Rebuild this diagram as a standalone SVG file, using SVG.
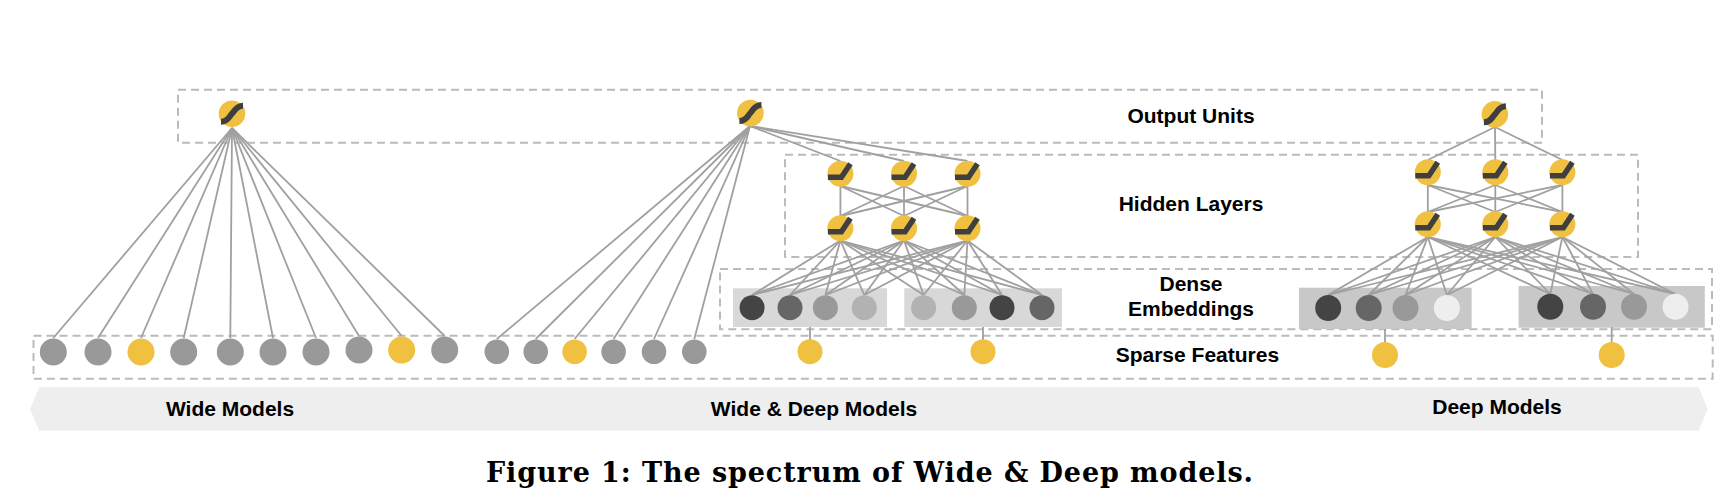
<svg xmlns="http://www.w3.org/2000/svg" width="1730" height="502" viewBox="0 0 1730 502">
<style>
text{font-family:"Liberation Sans",Arial,sans-serif;font-weight:700;font-size:21px;fill:#000;text-anchor:middle}
.cap{font-family:"DejaVu Serif",serif;font-size:27px;text-anchor:start}
.dash{fill:none;stroke:#bbb;stroke-width:2;stroke-dasharray:8 5}
.c line{stroke:#a0a0a0;stroke-width:1.8;fill:none}
.y{fill:#f0c040}.g{fill:#999}.k{fill:#444}.m{fill:#666}.l{fill:#b2b2b2}.w{fill:#eee}
.s{fill:none;stroke:#3f3f3f;stroke-width:6}
.r{fill:none;stroke:#3f3f3f;stroke-width:5.5}
.b1{fill:#d8d8d8}.b2{fill:#c8c8c8}
</style>
<defs>
<g id="sig"><circle r="13.3" class="y"/><path class="s" d="M-11 8C-4 8-3 3 0 0S4-8 11-8"/></g>
<g id="relu"><circle r="13" class="y"/><path class="r" d="M-12.5 3.5H1L10-10"/></g>
</defs>
<g id="banner"><path d="M39.3 387.3H1698.7L1707.7 409 1698.7 430.7H39.3L30 409Z" fill="#eee"/></g>
<g id="layer-boxes">
<rect id="box-output" class="dash" x="178" y="89.7" width="1364" height="53"/>
<rect id="box-hidden" class="dash" x="785" y="154.7" width="853" height="102.3"/>
<rect id="box-dense" class="dash" x="720" y="269" width="992" height="60.3"/>
<rect id="box-sparse" class="dash" x="33.5" y="335.7" width="1679.2" height="43"/>
</g>
<g id="embedding-boxes">
<rect class="b1" x="733" y="288.3" width="154" height="38.7"/>
<rect class="b1" x="904.3" y="288.3" width="157.7" height="38.7"/>
<rect class="b2" x="1299" y="287.7" width="172.6" height="41.3"/>
<rect class="b2" x="1518.6" y="286" width="186.2" height="41.7"/>
</g>
<g id="connectors" class="c">
<line x1="232" y1="128" x2="53.3" y2="338"/><line x1="232" y1="128" x2="98" y2="338"/><line x1="232" y1="128" x2="141" y2="338"/><line x1="232" y1="128" x2="183.7" y2="338"/><line x1="232" y1="128" x2="230.3" y2="338"/><line x1="232" y1="128" x2="273" y2="338"/><line x1="232" y1="128" x2="316" y2="338"/><line x1="232" y1="128" x2="359" y2="336"/><line x1="232" y1="128" x2="401.7" y2="336"/><line x1="232" y1="128" x2="444.7" y2="336"/>
<line x1="750" y1="126" x2="496.8" y2="339"/><line x1="750" y1="126" x2="535.7" y2="339"/><line x1="750" y1="126" x2="574.6" y2="339"/><line x1="750" y1="126" x2="613.6" y2="339"/><line x1="750" y1="126" x2="654" y2="339"/><line x1="750" y1="126" x2="694.3" y2="339"/>
<line x1="750" y1="126" x2="840.4" y2="161"/><line x1="750" y1="126" x2="904" y2="161"/><line x1="750" y1="126" x2="967.5" y2="161"/>
<line x1="840.4" y1="186" x2="840.4" y2="216"/><line x1="840.4" y1="186" x2="904" y2="216"/><line x1="840.4" y1="186" x2="967.5" y2="216"/><line x1="904" y1="186" x2="840.4" y2="216"/><line x1="904" y1="186" x2="904" y2="216"/><line x1="904" y1="186" x2="967.5" y2="216"/><line x1="967.5" y1="186" x2="840.4" y2="216"/><line x1="967.5" y1="186" x2="904" y2="216"/><line x1="967.5" y1="186" x2="967.5" y2="216"/>
<line x1="840.4" y1="240.5" x2="752" y2="295"/><line x1="840.4" y1="240.5" x2="790" y2="295"/><line x1="840.4" y1="240.5" x2="825.4" y2="295"/><line x1="840.4" y1="240.5" x2="864.3" y2="295"/><line x1="840.4" y1="240.5" x2="923.6" y2="295"/><line x1="840.4" y1="240.5" x2="964.3" y2="295"/><line x1="840.4" y1="240.5" x2="1002" y2="295"/><line x1="840.4" y1="240.5" x2="1042" y2="295"/>
<line x1="904" y1="240.5" x2="752" y2="295"/><line x1="904" y1="240.5" x2="790" y2="295"/><line x1="904" y1="240.5" x2="825.4" y2="295"/><line x1="904" y1="240.5" x2="864.3" y2="295"/><line x1="904" y1="240.5" x2="923.6" y2="295"/><line x1="904" y1="240.5" x2="964.3" y2="295"/><line x1="904" y1="240.5" x2="1002" y2="295"/><line x1="904" y1="240.5" x2="1042" y2="295"/>
<line x1="967.5" y1="240.5" x2="752" y2="295"/><line x1="967.5" y1="240.5" x2="790" y2="295"/><line x1="967.5" y1="240.5" x2="825.4" y2="295"/><line x1="967.5" y1="240.5" x2="864.3" y2="295"/><line x1="967.5" y1="240.5" x2="923.6" y2="295"/><line x1="967.5" y1="240.5" x2="964.3" y2="295"/><line x1="967.5" y1="240.5" x2="1002" y2="295"/><line x1="967.5" y1="240.5" x2="1042" y2="295"/>
<line x1="810" y1="327" x2="810" y2="340"/><line x1="983" y1="327" x2="983" y2="340"/>
<line x1="1495" y1="127" x2="1427.8" y2="160"/><line x1="1495" y1="127" x2="1495.3" y2="160"/><line x1="1495" y1="127" x2="1562.4" y2="160"/>
<line x1="1427.8" y1="185" x2="1427.8" y2="212"/><line x1="1427.8" y1="185" x2="1495.3" y2="212"/><line x1="1427.8" y1="185" x2="1562.4" y2="212"/><line x1="1495.3" y1="185" x2="1427.8" y2="212"/><line x1="1495.3" y1="185" x2="1495.3" y2="212"/><line x1="1495.3" y1="185" x2="1562.4" y2="212"/><line x1="1562.4" y1="185" x2="1427.8" y2="212"/><line x1="1562.4" y1="185" x2="1495.3" y2="212"/><line x1="1562.4" y1="185" x2="1562.4" y2="212"/>
<line x1="1427.8" y1="237" x2="1328.2" y2="295"/><line x1="1427.8" y1="237" x2="1368.7" y2="295"/><line x1="1427.8" y1="237" x2="1405.5" y2="295"/><line x1="1427.8" y1="237" x2="1446.9" y2="295"/><line x1="1427.8" y1="237" x2="1550.3" y2="294"/><line x1="1427.8" y1="237" x2="1593" y2="294"/><line x1="1427.8" y1="237" x2="1634" y2="294"/><line x1="1427.8" y1="237" x2="1675.5" y2="294"/>
<line x1="1495.3" y1="237" x2="1328.2" y2="295"/><line x1="1495.3" y1="237" x2="1368.7" y2="295"/><line x1="1495.3" y1="237" x2="1405.5" y2="295"/><line x1="1495.3" y1="237" x2="1446.9" y2="295"/><line x1="1495.3" y1="237" x2="1550.3" y2="294"/><line x1="1495.3" y1="237" x2="1593" y2="294"/><line x1="1495.3" y1="237" x2="1634" y2="294"/><line x1="1495.3" y1="237" x2="1675.5" y2="294"/>
<line x1="1562.4" y1="237" x2="1328.2" y2="295"/><line x1="1562.4" y1="237" x2="1368.7" y2="295"/><line x1="1562.4" y1="237" x2="1405.5" y2="295"/><line x1="1562.4" y1="237" x2="1446.9" y2="295"/><line x1="1562.4" y1="237" x2="1550.3" y2="294"/><line x1="1562.4" y1="237" x2="1593" y2="294"/><line x1="1562.4" y1="237" x2="1634" y2="294"/><line x1="1562.4" y1="237" x2="1675.5" y2="294"/>
<line x1="1385" y1="329" x2="1385" y2="342"/><line x1="1611.7" y1="327" x2="1611.7" y2="342"/>
</g>
<g id="wide-model">
<use id="wide-output" href="#sig" transform="translate(232 113.7)"/>
<circle id="w1" class="g" cx="53.3" cy="352" r="13.5"/><circle id="w2" class="g" cx="98" cy="352" r="13.5"/><circle id="w3" class="y" cx="141" cy="352" r="13.5"/><circle id="w4" class="g" cx="183.7" cy="352" r="13.5"/><circle id="w5" class="g" cx="230.3" cy="352" r="13.5"/><circle id="w6" class="g" cx="273" cy="352" r="13.5"/><circle id="w7" class="g" cx="316" cy="352" r="13.5"/><circle id="w8" class="g" cx="359" cy="350" r="13.5"/><circle id="w9" class="y" cx="401.7" cy="350" r="13.5"/><circle id="w10" class="g" cx="444.7" cy="350" r="13.5"/>
</g>
<g id="wide-deep-model">
<use id="wd-output" href="#sig" transform="translate(750.4 113)"/>
<use id="wd-h1" href="#relu" transform="translate(840.4 173.7)"/><use id="wd-h2" href="#relu" transform="translate(904 173.7)"/><use id="wd-h3" href="#relu" transform="translate(967.5 173.7)"/>
<use id="wd-h4" href="#relu" transform="translate(840.4 228.3)"/><use id="wd-h5" href="#relu" transform="translate(904 228.3)"/><use id="wd-h6" href="#relu" transform="translate(967.5 228.3)"/>
<circle class="k" cx="752.1" cy="307.7" r="12.5"/><circle class="m" cx="790" cy="307.7" r="12.5"/><circle class="g" cx="825.4" cy="307.7" r="12.5"/><circle class="l" cx="864.3" cy="307.7" r="12.5"/>
<circle class="l" cx="923.6" cy="307.7" r="12.5"/><circle class="g" cx="964.3" cy="307.7" r="12.5"/><circle class="k" cx="1002" cy="307.7" r="12.5"/><circle class="m" cx="1042" cy="307.7" r="12.5"/>
<circle class="g" cx="496.8" cy="351.7" r="12.3"/><circle class="g" cx="535.7" cy="351.7" r="12.3"/><circle class="y" cx="574.6" cy="351.7" r="12.3"/><circle class="g" cx="613.6" cy="351.7" r="12.3"/><circle class="g" cx="654" cy="351.7" r="12.3"/><circle class="g" cx="694.3" cy="351.7" r="12.3"/>
<circle class="y" cx="810" cy="351.7" r="12.5"/><circle class="y" cx="983" cy="351.7" r="12.5"/>
</g>
<g id="deep-model">
<use id="d-output" href="#sig" transform="translate(1494.9 114.3)"/>
<use id="d-h1" href="#relu" transform="translate(1427.8 172.3)"/><use id="d-h2" href="#relu" transform="translate(1495.3 172.3)"/><use id="d-h3" href="#relu" transform="translate(1562.4 172.3)"/>
<use id="d-h4" href="#relu" transform="translate(1427.8 224.3)"/><use id="d-h5" href="#relu" transform="translate(1495.3 224.3)"/><use id="d-h6" href="#relu" transform="translate(1562.4 224.3)"/>
<circle class="k" cx="1328.2" cy="308" r="13"/><circle class="m" cx="1368.7" cy="308" r="13"/><circle class="g" cx="1405.5" cy="308" r="13"/><circle class="w" cx="1446.9" cy="308" r="13"/>
<circle class="k" cx="1550.3" cy="306.7" r="13"/><circle class="m" cx="1593" cy="306.7" r="13"/><circle class="g" cx="1634" cy="306.7" r="13"/><circle class="w" cx="1675.5" cy="306.7" r="13"/>
<circle class="y" cx="1385" cy="355" r="13"/><circle class="y" cx="1611.7" cy="355" r="13"/>
</g>
<g id="labels">
<text x="1191" y="122.7">Output Units</text>
<text x="1191" y="210.7">Hidden Layers</text>
<text x="1191" y="290.7">Dense</text>
<text x="1191" y="316">Embeddings</text>
<text x="1197.4" y="361.7">Sparse Features</text>
<text x="230" y="415.7">Wide Models</text>
<text x="814" y="416">Wide &amp; Deep Models</text>
<text x="1497" y="413.7">Deep Models</text>
<text class="cap" x="486" y="482.3" textLength="767" lengthAdjust="spacing">Figure 1: The spectrum of Wide &amp; Deep models.</text>
</g>
</svg>
